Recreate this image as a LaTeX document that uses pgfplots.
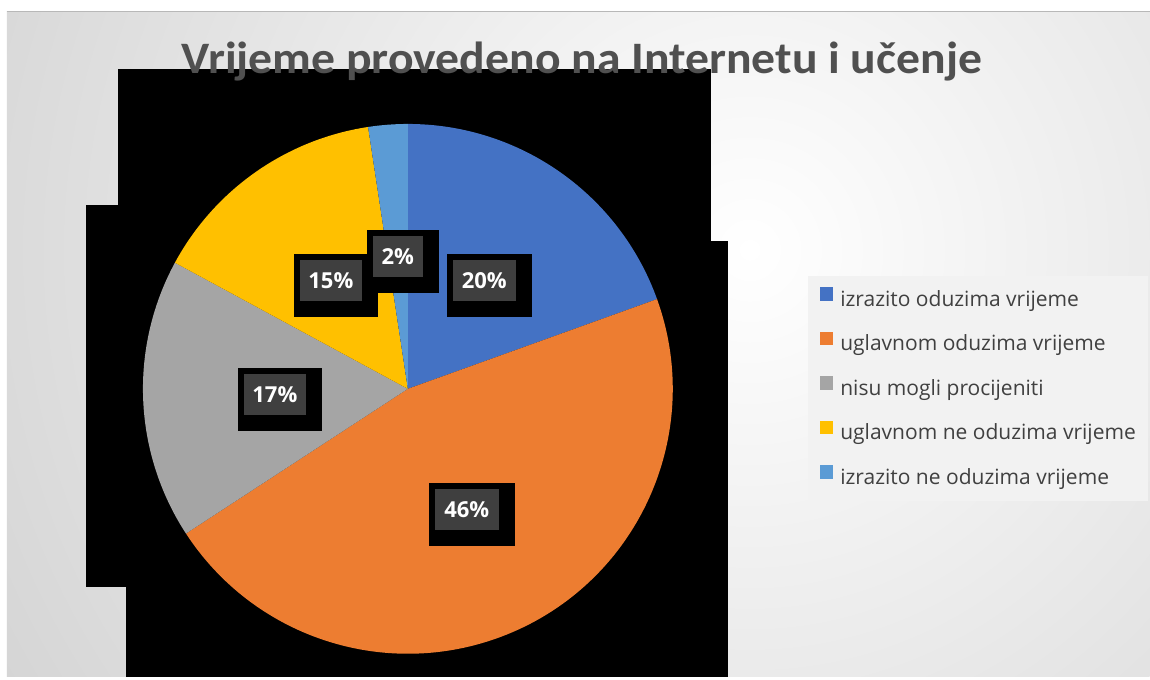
\documentclass[border=0pt]{standalone}
\usepackage{pgfplots}
\pgfplotsset{compat=1.18}
\usepackage{pgfplotstable}
\usepackage{graphicx}
\usepackage{fontspec}
\setmainfont{Carlito}
\newfontfamily\opensans{Open Sans}

\definecolor{col0}{HTML}{4472C4}
\definecolor{col1}{HTML}{ED7D31}
\definecolor{col2}{HTML}{A5A5A5}
\definecolor{col3}{HTML}{FFC000}
\definecolor{col4}{HTML}{5B9BD5}
\definecolor{bgout}{HTML}{C2C2C2}
\definecolor{legbg}{HTML}{F2F2F2}
\definecolor{legtxt}{HTML}{404040}
\definecolor{ttl}{HTML}{505050}
\definecolor{lblbox}{HTML}{3F3F3F}

\pgfplotstableread{
value pct
19.5 20
46.3 46
17.1 17
14.7 15
2.4 2
}\piedata

% cx cy (centre of dark box), box width, text
\newcommand{\pctlabel}[4]{%
  \fill[black] (axis cs:#1-#3/2-6,#2-26) rectangle (axis cs:#1+#3/2+16,#2+37);
  \fill[lblbox] (axis cs:#1-#3/2,#2-20.5) rectangle (axis cs:#1+#3/2,#2+20.5);
  \node[text=white, font=\opensans\fontsize{22}{26}\selectfont\bfseries, inner sep=0pt] at (axis cs:#1,#2) {#4};
}

\begin{document}
\begin{tikzpicture}
\xdef\cur{90}
\foreach \i in {0,...,4}{%
  \pgfplotstablegetelem{\i}{value}\of\piedata
  \pgfmathsetmacro\endang{\cur-3.6*\pgfplotsretval}%
  \expandafter\xdef\csname sa\i\endcsname{\cur}%
  \expandafter\xdef\csname ea\i\endcsname{\endang}%
  \xdef\cur{\endang}%
}
\begin{axis}[
  x=1pt, y=1pt, xmin=0, xmax=1150, ymin=0, ymax=677, y dir=reverse,
  hide axis, clip=false,
  legend cell align=left,
  legend image code/.code={\fill[#1, draw=none] (0pt,0pt) rectangle (13.5pt,13.5pt);},
  legend style={at={(axis cs:808,276)}, anchor=north west, fill=legbg, draw=none,
    inner xsep=12pt, inner ysep=11pt, font=\opensans\fontsize{21}{25}\selectfont, text=legtxt,
    row sep=19.5pt, nodes={inner sep=0pt, text height=17pt, text depth=6pt},
    /tikz/every odd column/.append style={column sep=7pt}},
]
% background
\fill[white] (axis cs:0,0) rectangle (axis cs:1150,677);
\begin{scope}
  \clip (axis cs:7,11) rectangle (axis cs:1150,677);
  \shade[overlay, inner color=white, outer color=bgout] (axis cs:750,250) circle[radius=1250pt];
\end{scope}
\draw[black!28, line width=1pt] (axis cs:7,11) -- (axis cs:1150,11);
% black plot-area artefacts
\fill[black] (axis cs:118,69) rectangle (axis cs:711,587);
\fill[black] (axis cs:86,205) rectangle (axis cs:711,587);
\fill[black] (axis cs:126,241) rectangle (axis cs:728,677);
% title
\node[anchor=base, text=ttl, font=\fontsize{45}{52}\selectfont\bfseries, inner sep=0pt]
  at (axis cs:582,74) {\scalebox{1.06}[1]{Vrijeme provedeno na Internetu i učenje}};
% pie slices from the table values
\pgfplotsinvokeforeach{0,...,4}{%
  \fill[col#1] (axis cs:408,389) -- ++(\csname sa#1\endcsname:265pt)
    arc[start angle=\csname sa#1\endcsname, end angle=\csname ea#1\endcsname, radius=265pt] -- cycle;
}
% data labels
\pctlabel{484.5}{280.5}{63}{20\%}
\pctlabel{467}{509.5}{64}{46\%}
\pctlabel{275}{394.5}{62}{17\%}
\pctlabel{331}{280.5}{62}{15\%}
\pctlabel{398}{256.5}{50}{2\%}
% legend
\addlegendimage{fill=col0}
\addlegendimage{fill=col1}
\addlegendimage{fill=col2}
\addlegendimage{fill=col3}
\addlegendimage{fill=col4}
\legend{izrazito oduzima vrijeme, uglavnom oduzima vrijeme, nisu mogli procijeniti, uglavnom ne oduzima vrijeme, izrazito ne oduzima vrijeme}
\end{axis}
\end{tikzpicture}
\end{document}
